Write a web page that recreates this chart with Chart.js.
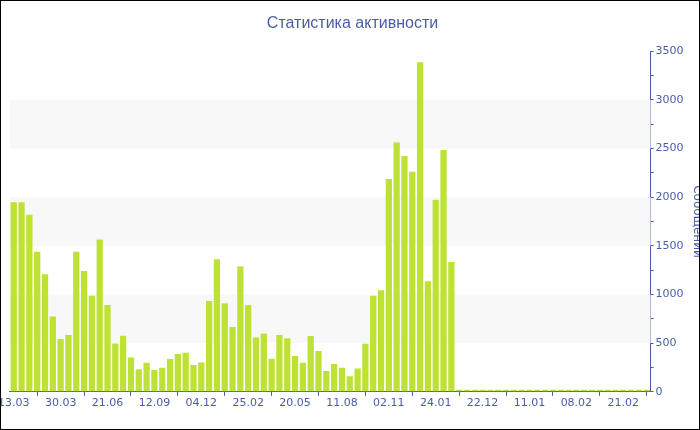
<!DOCTYPE html>
<html>
<head>
<meta charset="utf-8">
<script src="https://cdn.jsdelivr.net/npm/chart.js@4.4.1/dist/chart.umd.min.js"></script>
<style>
  html, body { margin: 0; padding: 0; background: #fff; }
  #frame {
    position: relative;
    width: 698px;
    height: 428px;
    border: 1px solid #000;
    overflow: hidden;
  }
  #box {
    position: absolute;
    left: -4px;
    top: 0;
    width: 711px;
    height: 428px;
  }
</style>
</head>
<body>
<div id="frame"><div id="box"><canvas id="activityChart"></canvas></div></div>
<script>
// Data
const tickLabels = ['13.03', '30.03', '21.06', '12.09', '04.12', '25.02', '20.05',
  '11.08', '02.11', '24.01', '22.12', '11.01', '08.02', '21.02'];

const messages = [
  1949, 1949, 1819, 1438, 1208, 775, 542, 583, 1438, 1242,
  988, 1565, 892, 497, 576, 353, 233, 299, 223, 247,
  336, 388, 401, 275, 302, 933, 1362, 909, 666, 1287,
  892, 559, 600, 340, 583, 549, 367, 299, 573, 419,
  213, 285, 247, 161, 240, 494, 988, 1043, 2186, 2563,
  2423, 2261, 3387, 1136, 1973, 2484, 1335,
  0, 0, 0, 0, 0, 0, 0, 0, 0, 0,
  0, 0, 0, 0, 0, 0, 0, 0, 0, 0,
  0, 0, 0, 0, 0
];

const labelEvery = 6;
const categories = messages.map((v, i) => i % labelEvery === 0 ? tickLabels[i / labelEvery] : '');

const blue = '#4a5ca8';

// Grey bands between every other 500 step
const bandsPlugin = {
  id: 'bands',
  beforeDatasetsDraw(chart) {
    const { ctx, chartArea, scales } = chart;
    const y = scales.y;
    ctx.save();
    ctx.fillStyle = '#f8f8f8';
    for (let v = 500; v < 3500; v += 1000) {
      const top = y.getPixelForValue(v + 500);
      const bottom = y.getPixelForValue(v);
      ctx.fillRect(chartArea.left, top, chartArea.right - chartArea.left, bottom - top);
    }
    ctx.restore();
  }
};

new Chart(document.getElementById('activityChart'), {
  type: 'bar',
  data: {
    labels: categories,
    datasets: [{
      label: 'Сообщений',
      data: messages,
      backgroundColor: '#bde233',
      borderWidth: 0,
      minBarLength: 2,
      barPercentage: 0.8,
      categoryPercentage: 1
    }]
  },
  options: {
    responsive: true,
    maintainAspectRatio: false,
    animation: false,
    layout: { padding: { top: 0, bottom: 18, left: 0, right: 0 } },
    plugins: {
      legend: { display: false },
      tooltip: { enabled: false },
      title: {
        display: true,
        text: 'Статистика активности',
        color: blue,
        font: { family: 'Liberation Sans', size: 16, weight: 'normal' },
        padding: { top: 13, bottom: 18 }
      }
    },
    scales: {
      x: {
        border: { display: true, color: blue, width: 1 },
        grid: { drawOnChartArea: false, color: blue, tickLength: 4 },
        ticks: {
          autoSkip: false,
          maxRotation: 0,
          padding: 1,
          color: blue,
          font: { family: 'DejaVu Sans', size: 11 },
          callback: function (v, i) {
            const t = categories[i];
            return t ? t : null;
          }
        }
      },
      y: {
        position: 'right',
        min: 0,
        max: 3500,
        border: { display: true, color: blue, width: 1 },
        grid: { drawOnChartArea: false, color: blue, tickLength: 3 },
        ticks: {
          stepSize: 250,
          padding: 2,
          color: blue,
          font: { family: 'DejaVu Sans', size: 11 },
          callback: v => v % 500 === 0 ? String(v) : ''
        },
        title: {
          display: true,
          text: 'Сообщений',
          color: blue,
          font: { family: 'DejaVu Sans', size: 12 },
          padding: { top: 4, bottom: 4 }
        }
      }
    }
  },
  plugins: [bandsPlugin]
});
</script>
</body>
</html>
